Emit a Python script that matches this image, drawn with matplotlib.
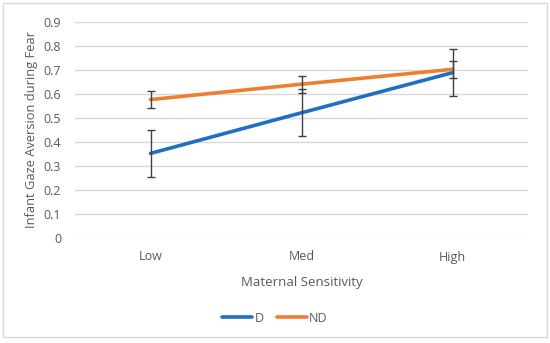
import matplotlib
matplotlib.use("Agg")
import matplotlib.pyplot as plt
from matplotlib.patches import Rectangle
import numpy as np

categories = ["Low", "Med", "High"]
d_values = [0.352, 0.521, 0.688]
d_err = [0.097, 0.097, 0.097]
nd_values = [0.576, 0.640, 0.702]
nd_err = [0.036, 0.035, 0.035]
yticks = [0, 0.1, 0.2, 0.3, 0.4, 0.5, 0.6, 0.7, 0.8, 0.9]

plt.rcParams['font.family'] = ['Open Sans', 'DejaVu Sans']

fig = plt.figure(figsize=(5.5, 3.43), dpi=100)
ax = fig.add_axes([75/550, 1-238/343, (528-75)/550, (238-21.7)/343])

x = np.arange(len(categories))
blue = "#1F6FC4"
orange = "#EF7E30"
ax.plot(x, d_values, color=blue, lw=2.6, label="D", zorder=3, solid_capstyle='round')
ax.plot(x, nd_values, color=orange, lw=2.6, label="ND", zorder=3, solid_capstyle='round')
ax.errorbar(x, d_values, yerr=d_err, fmt='none', ecolor="#404040", elinewidth=1.0, capsize=3, capthick=1.0, zorder=4)
ax.errorbar(x, nd_values, yerr=nd_err, fmt='none', ecolor="#404040", elinewidth=1.0, capsize=3, capthick=1.0, zorder=4)

ax.set_xlim(-0.5, 2.5)
ax.set_ylim(0, 0.9)
ax.set_yticks(yticks)
ax.set_yticklabels([f"{t:g}" for t in yticks])
ax.set_xticks(x)
ax.set_xticklabels(categories)
ax.grid(axis='y', color="#D9D9D9", lw=1.0)
ax.set_axisbelow(True)
for s in ax.spines.values():
    s.set_visible(False)
ax.tick_params(axis='both', length=0, labelsize=9, colors="#595959")
ax.tick_params(axis='x', pad=9)
ax.tick_params(axis='y', pad=10)

ax.set_xlabel("Maternal Sensitivity", fontsize=9.5, color="#595959", labelpad=9)
ax.set_ylabel("Infant Gaze Aversion during Fear", fontsize=9.3, color="#595959", labelpad=4)

leg = fig.legend(loc='center', bbox_to_anchor=(0.5, 1-318/343), ncol=2, frameon=False,
                 fontsize=9, handlelength=2.4, handletextpad=0.2, columnspacing=1.0,
                 labelcolor="#595959")

fig.patches.append(Rectangle((3/550, 1-337/343), 544/550, 334/343, transform=fig.transFigure,
                             fill=False, edgecolor="#D9D9D9", lw=1.0))

fig.savefig("out.png", dpi=100)
